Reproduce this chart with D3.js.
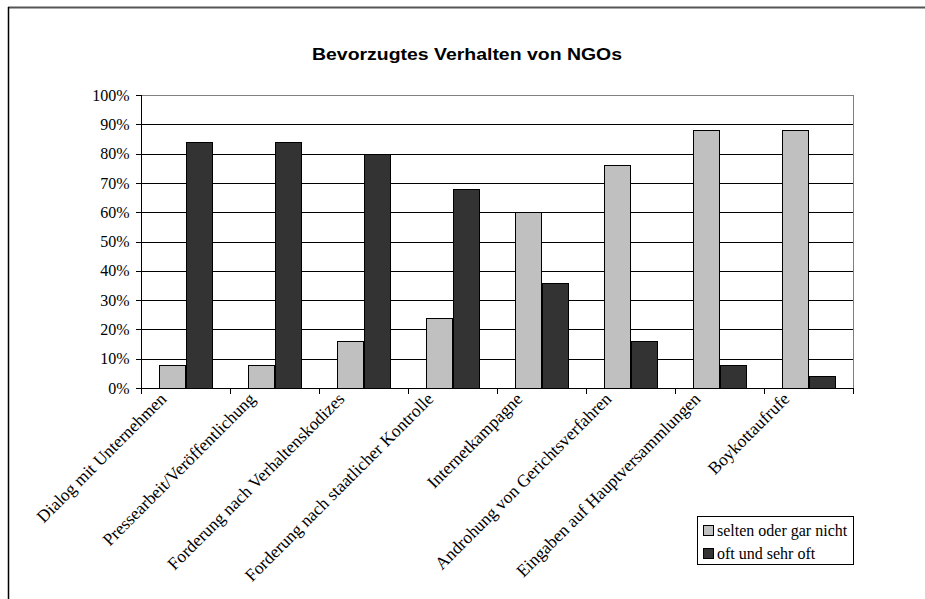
<!DOCTYPE html>
<html><head><meta charset="utf-8">
<script src="https://cdn.jsdelivr.net/npm/d3@7"></script>
<style>body{margin:0;background:#fff}svg{display:block}</style>
</head><body>
<svg id="c" width="925" height="599"></svg>
<script>
const categories = ["Dialog mit Unternehmen","Pressearbeit/Veröffentlichung","Forderung nach Verhaltenskodizes","Forderung nach staatlicher Kontrolle","Internetkampagne","Androhung von Gerichtsverfahren","Eingaben auf Hauptversammlungen","Boykottaufrufe"];
const seriesNames = ["selten oder gar nicht","oft und sehr oft"];
const selten = [8, 8, 16, 24, 60, 76, 88, 88];
const oft = [84, 84, 80, 68, 36, 16, 8, 4];
const yTicks = [0,10,20,30,40,50,60,70,80,90,100];
const title = "Bevorzugtes Verhalten von NGOs";
const colors = ["#c0c0c0","#333333"];

const svg = d3.select("#c");
const L=141, R=853, T=95, B=388;
const serif = "'Liberation Serif', 'Times New Roman', serif";

// outer frame (top and left edges visible)
svg.append("line").attr("x1",8).attr("x2",925).attr("y1",7.5).attr("y2",7.5)
  .attr("stroke","#555").attr("stroke-width",2);
svg.append("line").attr("x1",8.5).attr("x2",8.5).attr("y1",7).attr("y2",599)
  .attr("stroke","#000").attr("stroke-width",1.5);

svg.append("text").attr("x",467).attr("y",60).attr("text-anchor","middle")
  .attr("font-family","'Liberation Sans', Arial, sans-serif").attr("font-weight","bold")
  .attr("font-size",16.5).attr("textLength",310).attr("lengthAdjust","spacingAndGlyphs").text(title);

const x = d3.scaleBand().domain(categories).range([L,R]).padding(0);
const xs = d3.scaleBand().domain(seriesNames).range([0,x.bandwidth()]).paddingInner(0).paddingOuter(0.71);
const y = d3.scaleLinear().domain([0,100]).range([B,T]);

const g = svg.append("g").attr("shape-rendering","crispEdges");
// gridlines
g.selectAll("line.grid").data(yTicks.filter(d=>d>0 && d<100)).enter().append("line")
  .attr("x1",L).attr("x2",R).attr("y1",d=>Math.round(y(d))+0.5).attr("y2",d=>Math.round(y(d))+0.5)
  .attr("stroke","#000");
// plot border top/right
g.append("path").attr("d",`M${L},${T+0.5}H${R+0.5}V${B}`).attr("fill","none").attr("stroke","#808080");

// bars
const data = [];
categories.forEach((c,i)=>{ data.push({c,s:seriesNames[0],v:selten[i],k:0}); data.push({c,s:seriesNames[1],v:oft[i],k:1}); });
g.selectAll("rect.bar").data(data).enter().append("rect")
  .attr("x",d=>Math.round(x(d.c)+xs(d.s))+0.5)
  .attr("width",Math.round(xs.bandwidth()))
  .attr("y",d=>Math.round(y(d.v))+0.5)
  .attr("height",d=>Math.round(y(0))-Math.round(y(d.v)))
  .attr("fill",d=>colors[d.k]).attr("stroke","#000").attr("stroke-width",1);

// y axis
const ya = d3.axisLeft(y).tickValues(yTicks).tickFormat(d=>d+"%").tickSize(6).tickPadding(6);
const yg = svg.append("g").attr("transform",`translate(${L+0.5},0)`).call(ya);
yg.select(".domain").remove();
yg.selectAll("text").attr("font-family",serif).attr("font-size",16).attr("fill","#000");
yg.selectAll("line").attr("stroke","#000").attr("shape-rendering","crispEdges");
svg.append("line").attr("x1",L+0.5).attr("x2",L+0.5).attr("y1",T).attr("y2",B+1).attr("stroke","#000").attr("shape-rendering","crispEdges");

// x axis line + ticks at boundaries
svg.append("line").attr("x1",L).attr("x2",R+1).attr("y1",B+0.5).attr("y2",B+0.5).attr("stroke","#000").attr("shape-rendering","crispEdges");
const bounds = categories.map(c=>x(c)).concat([R]);
svg.selectAll("line.xt").data(bounds).enter().append("line")
  .attr("x1",d=>Math.round(d)+0.5).attr("x2",d=>Math.round(d)+0.5).attr("y1",B).attr("y2",B+6)
  .attr("stroke","#000").attr("shape-rendering","crispEdges");

// x labels rotated
svg.selectAll("text.xl").data(categories).enter().append("text")
  .attr("text-anchor","end").attr("font-family",serif).attr("font-size",17.5)
  .attr("transform",d=>`translate(${x(d)+x.bandwidth()/2-18},${B+12}) rotate(-45)`)
  .text(d=>d);

// legend
const lg = svg.append("g");
lg.append("rect").attr("x",697.5).attr("y",516.5).attr("width",156).attr("height",48)
  .attr("fill","#fff").attr("stroke","#000").attr("shape-rendering","crispEdges");
seriesNames.forEach((s,i)=>{
  const cy = 531 + i*23;
  lg.append("rect").attr("x",703.5).attr("y",cy-5.5).attr("width",10).attr("height",10)
    .attr("fill",colors[i]).attr("stroke","#000").attr("shape-rendering","crispEdges");
  lg.append("text").attr("x",717).attr("y",cy+5).attr("font-family",serif).attr("font-size",16).text(s);
});
</script>
</body></html>
